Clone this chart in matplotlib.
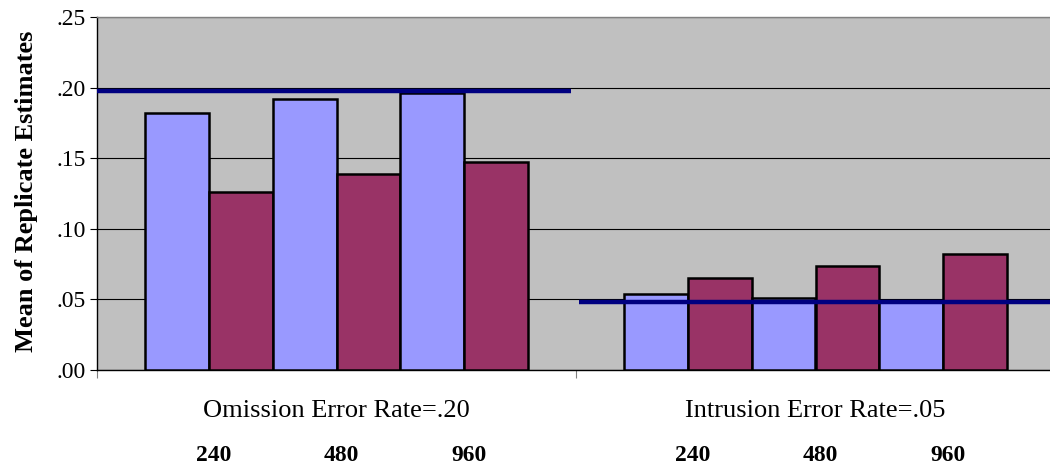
import matplotlib
matplotlib.use("Agg")
import matplotlib.pyplot as plt
import matplotlib.transforms as mtransforms
import numpy as np

plt.rcParams['font.family'] = ['Liberation Serif', 'DejaVu Serif']

# data
group_labels = ["Omission Error Rate=.20", "Intrusion Error Rate=.05"]
size_labels = ["240", "480", "960"]
series_a = [[0.182, 0.192, 0.196], [0.054, 0.051, 0.049]]  # lavender bars
series_b = [[0.126, 0.139, 0.147], [0.065, 0.074, 0.082]]  # maroon bars
true_rates = [0.1975, 0.0485]
yticks = [0.00, 0.05, 0.10, 0.15, 0.20, 0.25]

fig = plt.figure(figsize=(10.5, 4.69), dpi=100)
ax = fig.add_axes([97 / 1050, 1 - 370 / 469, 958 / 1050, 353 / 469])
ax.set_facecolor('#C0C0C0')

w = 0.1336
for g in range(len(group_labels)):
    for p in range(len(size_labels)):
        k = 2 * p
        ax.bar(g + (k - 2.5) * w, series_a[g][p], width=w, color='#9999FF',
               edgecolor='black', linewidth=1.8, zorder=3)
        ax.bar(g + (k + 1 - 2.5) * w, series_b[g][p], width=w, color='#993366',
               edgecolor='black', linewidth=1.8, zorder=3)

# true-rate reference lines
ax.hlines(true_rates[0], -0.5, 0.49, color='#000080', linewidth=3.2, zorder=4)
ax.hlines(true_rates[1], 0.506, 1.5, color='#000080', linewidth=3.2, zorder=4)

ax.set_xlim(-0.5, 1.5)
ax.set_ylim(0, 0.25)
ax.set_yticks(yticks)
ax.set_yticklabels(['.%02d' % round(v * 100) for v in yticks], fontsize=17)
ax.yaxis.grid(True, color='black', linewidth=0.8, zorder=1)
ax.set_axisbelow(True)
ax.tick_params(axis='y', length=5, width=0.8, pad=3)

ax.set_xticks([-0.5, 0.5, 1.5])
ax.set_xticklabels([])
ax.tick_params(axis='x', length=6, width=0.8, color='#808080')

for side in ['top', 'right']:
    ax.spines[side].set_color('#808080')
    ax.spines[side].set_linewidth(1.0)
for side in ['left', 'bottom']:
    ax.spines[side].set_color('black')
    ax.spines[side].set_linewidth(1.0)

trans = mtransforms.blended_transform_factory(ax.transData, ax.transAxes)
for g, name in enumerate(group_labels):
    ax.text(g, -0.116, name, transform=trans, ha='center', va='center', fontsize=19)
    for p, s in enumerate(size_labels):
        ax.text(g + (2 * p - 2) * w + 0.01, -0.241, s, transform=trans,
                ha='center', va='center', fontsize=17, fontweight='bold')

fig.text(27 / 1050, 1 - 191 / 469, 'Mean of Replicate Estimates', rotation=90,
         ha='center', va='center', fontsize=19, fontweight='bold')

fig.savefig('out.png', dpi=100)
